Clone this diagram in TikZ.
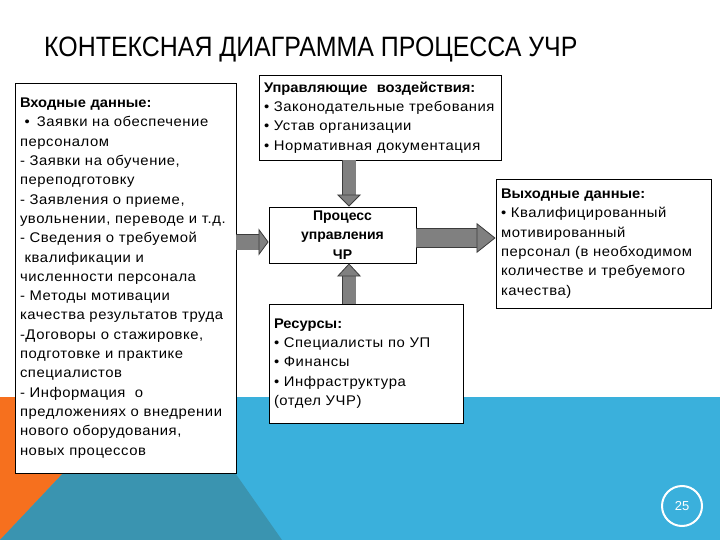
\documentclass[tikz,border=0pt]{standalone}
\usepackage{fontspec}
\setmainfont[FakeStretch=1.06, LetterSpace=4,
  BoldFeatures={FakeStretch=1.05, LetterSpace=0}]{Liberation Sans}
\newfontfamily\titlefont[FakeStretch=0.89]{Liberation Sans}
\newfontfamily\procfont{Liberation Sans}
\usepackage{xcolor}
\usetikzlibrary{arrows.meta,positioning}
\definecolor{bandblue}{RGB}{58,176,220}
\definecolor{bandteal}{RGB}{58,148,176}
\definecolor{bandorange}{RGB}{246,112,30}
\definecolor{arrowgray}{RGB}{128,128,128}
\definecolor{arrowedge}{RGB}{60,60,60}
\tikzset{
  infobox/.style={
    draw=black, line width=0.9pt, fill=white, align=left,
    inner xsep=5pt, inner ysep=0pt,
    font=\fontsize{14}{19.3}\selectfont
  },
  procbox/.style={
    draw=black, line width=0.9pt, fill=white, align=center,
    inner sep=0pt, font=\procfont\bfseries\fontsize{14}{19.5}\selectfont
  },
  % Gray block arrow, the outline comes from a wider dark preaction.
  fatarrow/.style n args={3}{
    draw=arrowgray, line width=#1,
    -{Triangle[width=#2,length=#3,color=arrowedge,fill=arrowgray,line width=0.8pt]},
    preaction={draw=arrowedge, line width=#1+1.6pt, arrows=-, shorten >=#3-0.5pt}
  }
}

\begin{document}
\begin{tikzpicture}[x=1pt,y=-1pt]
  \useasboundingbox (0,0) rectangle (720,540);

  % Slide background: white top, coloured band at the bottom.
  \fill[white] (0,0) rectangle (720,540);
  \fill[bandblue] (0,397) rectangle (720,540);
  \fill[bandorange] (0,397) -- (135,397) -- (0,540) -- cycle;
  \fill[bandteal] (135,397) -- (182,397) -- (282,540) -- (0,540) -- cycle;

  \node[anchor=base west, inner sep=0pt,
        font=\titlefont\fontsize{28}{28}\selectfont] (title) at (44,57)
    {КОНТЕКСНАЯ ДИАГРАММА ПРОЦЕССА УЧР};

  % Helper rows and axis for the block arrows.
  \coordinate (inrow)  at (0,242);
  \coordinate (outrow) at (0,238);
  \coordinate (vaxis)  at (349,0);

  \node[infobox, minimum width=221pt, minimum height=390pt, text width=211pt]
    (inp) at (125.5,278) {%
    \textbf{Входные данные:}\\
    \ •\enspace Заявки на обеспечение\\
    персоналом\\
    - Заявки на обучение,\\
    переподготовку\\
    - Заявления о приеме,\\
    увольнении, переводе и т.д.\\
    - Сведения о требуемой\\
    \ квалификации и\\
    численности персонала\\
    - Методы мотивации\\
    качества результатов труда\\
    -Договоры о стажировке,\\
    подготовке и практике\\
    специалистов\\
    - Информация \ о\\
    предложениях о внедрении\\
    нового оборудования,\\
    новых процессов};

  \node[infobox, minimum width=242pt, minimum height=85pt, text width=232pt]
    (ctl) at (380,117.5) {%
    \textbf{Управляющие \ воздействия:}\\
    • Законодательные требования\\
    • Устав организации\\
    • Нормативная документация};

  \node[procbox, minimum width=147pt, minimum height=56pt]
    (proc) at (342.5,235) {Процесс\\управления\\ЧР};

  \node[infobox, minimum width=215pt, minimum height=129pt, text width=205pt]
    (out) at (603.5,243.5) {%
    \textbf{Выходные данные:}\\
    • Квалифицированный\\
    мотивированный\\
    персонал (в необходимом\\
    количестве и требуемого\\
    качества)};

  \node[infobox, minimum width=194pt, minimum height=119pt, text width=184pt]
    (res) at (366,363.5) {%
    \textbf{Ресурсы:}\\
    • Специалисты по УП\\
    • Финансы\\
    • Инфраструктура\\
    (отдел УЧР)};

  % Block arrows into and out of the process.
  \draw[fatarrow={15pt}{27pt}{10pt}] (inp.east |- inrow) -- (proc.west |- inrow);
  \draw[fatarrow={13pt}{24pt}{12pt}] (ctl.south -| vaxis) -- (proc.north -| vaxis);
  \draw[fatarrow={13pt}{24pt}{13pt}] (res.north -| vaxis) -- (proc.south -| vaxis);
  \draw[fatarrow={18pt}{30pt}{19pt}] (proc.east |- outrow) -- (out.west |- outrow);

  \node[circle, draw=white, line width=2pt, minimum size=40pt, inner sep=0pt,
        text=white, font=\procfont\fontsize{13}{13}\selectfont] (pnum) at (682,506) {25};
\end{tikzpicture}
\end{document}
